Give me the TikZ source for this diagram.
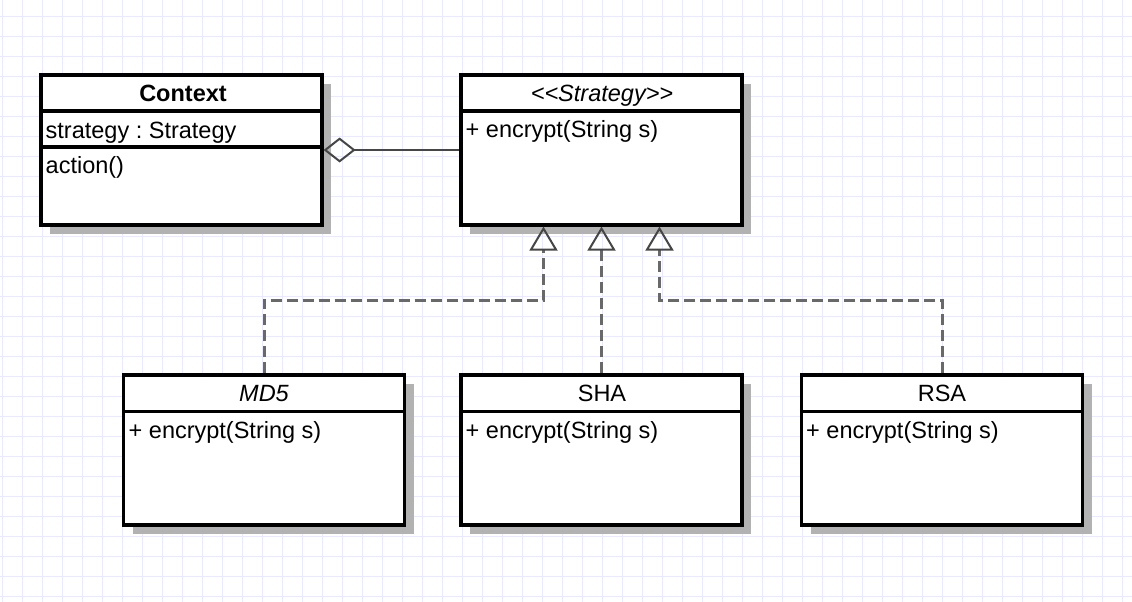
\documentclass[tikz,border=0pt]{standalone}
\usepackage{fontspec}
\setmainfont{Liberation Sans}
\usetikzlibrary{arrows.meta,shadows}
\definecolor{gridc}{RGB}{233,233,255}
\definecolor{shadowc}{RGB}{178,178,178}
\definecolor{linec}{RGB}{105,105,105}
\definecolor{tipc}{RGB}{70,70,70}
\tikzset{
  umlbox/.style={draw=black, line width=3.2pt, fill=white, minimum width=281pt,
    minimum height=150pt, inner sep=0pt,
    drop shadow={shadow xshift=9pt, shadow yshift=-9pt, fill=shadowc, opacity=1}},
  divider/.style={draw=black, line width=3.2pt},
  umltext/.style={inner sep=0pt, font=\fontsize{23.5}{28}\selectfont\frenchspacing},
  titletext/.style={umltext, anchor=base},
  membertext/.style={umltext, anchor=base west},
  agg/.style={draw=tipc, line width=2pt,
    {Diamond[open, length=32pt, width=25pt, line width=2pt, color=tipc]}-},
  impl/.style={draw=linec, line width=3pt, dash pattern=on 11pt off 5pt,
    -{Triangle[open, length=24pt, width=28pt, line width=2pt, color=tipc]}},
}
\begin{document}
\begin{tikzpicture}[x=1pt, y=-1pt]
\useasboundingbox (0,0) rectangle (1132,602);
\fill[white] (0,0) rectangle (1132,602);
% grid
\foreach \x in {2.7,22.7,...,1132} \draw[gridc, line width=1.3pt] (\x,0) -- (\x,602);
\foreach \y in {16.5,36.5,...,602} \draw[gridc, line width=1.3pt] (0,\y) -- (1132,\y);

% classes
\node[umlbox] (ctx)   at (181.5,150) {};
\node[umlbox] (strat) at (601.5,150) {};
\node[umlbox] (md5)   at (264,450) {};
\node[umlbox] (sha)   at (601.5,450) {};
\node[umlbox] (rsa)   at (942,450) {};

\coordinate (hdtop) at (0,111);
\coordinate (hdctx) at (0,147);
\coordinate (hdbot) at (0,411.5);
\draw[divider] (ctx.west |- hdtop) -- (ctx.east |- hdtop);
\draw[divider] (ctx.west |- hdctx) -- (ctx.east |- hdctx);
\draw[divider] (strat.west |- hdtop) -- (strat.east |- hdtop);
\draw[divider] (md5.west |- hdbot) -- (md5.east |- hdbot);
\draw[divider] (sha.west |- hdbot) -- (sha.east |- hdbot);
\draw[divider] (rsa.west |- hdbot) -- (rsa.east |- hdbot);

% texts
\node[titletext] (ctxname) at (183,101.5) {\bfseries Context};
\node[membertext] (ctxattr) at (45.5,138) {strategy : Strategy};
\node[membertext] (ctxop) at (45.5,173) {action()};
\node[titletext] (stratname) at (602,101.5) {\itshape <{}<Strategy>{}>};
\node[membertext] (stratop) at (465.5,137.5) {+ encrypt(String s)};
\node[titletext] (md5name) at (264,401.5) {\itshape MD5};
\node[membertext] (md5op) at (128.5,438) {+ encrypt(String s)};
\node[titletext] (shaname) at (602,401.5) {SHA};
\node[membertext] (shaop) at (465.5,438) {+ encrypt(String s)};
\node[titletext] (rsaname) at (942,401.5) {RSA};
\node[membertext] (rsaop) at (806,438) {+ encrypt(String s)};

% connectors
\draw[agg] (ctx.east) -- (strat.west);
\coordinate (bend) at (0,300);
\draw[impl] (md5.north) -- (md5.north |- bend) -| ([xshift=-58pt]strat.south);
\draw[impl] (sha.north) -- (strat.south);
\draw[impl] (rsa.north) -- (rsa.north |- bend) -| ([xshift=58pt]strat.south);
\end{tikzpicture}
\end{document}
